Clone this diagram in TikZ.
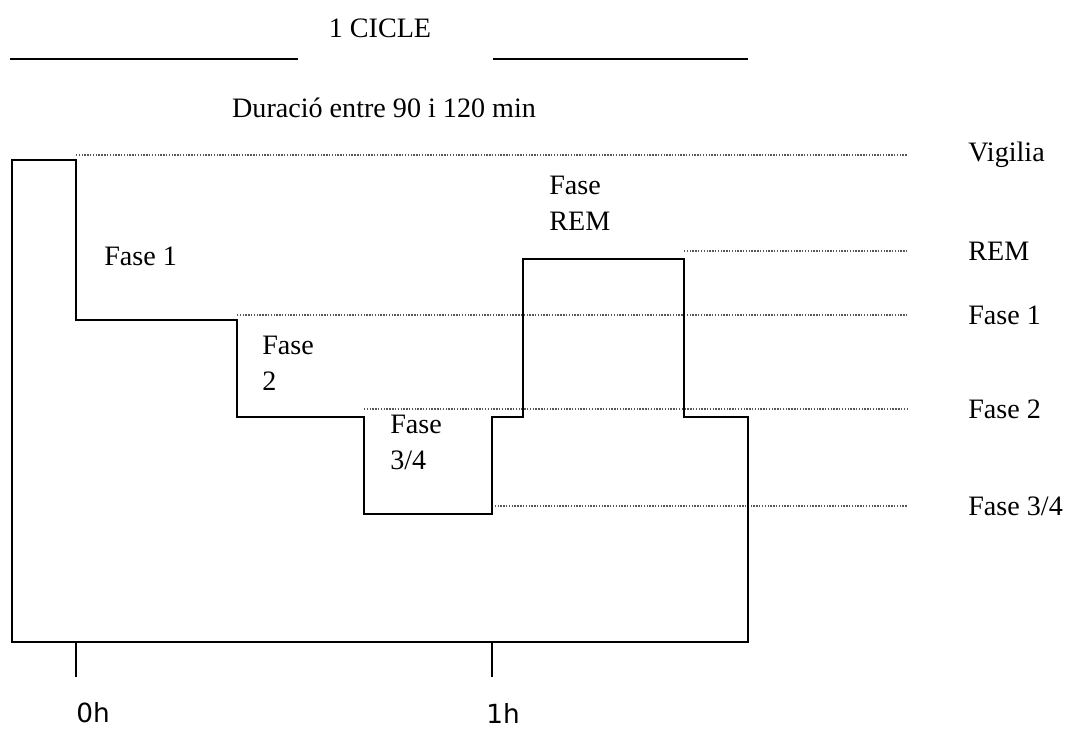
\documentclass[tikz,border=0pt]{standalone}
\usepackage{fontspec}
\setmainfont{Liberation Serif}
\newfontfamily\tickfont{DejaVu Sans}
\usetikzlibrary{positioning}

\begin{document}
\begin{tikzpicture}[x=0.02cm, y=-0.02cm, every node/.style={font=\fontsize{16}{20.5}\selectfont, inner sep=0pt}]
\tikzset{lvl/.style={line width=0.8pt, black!65, dash pattern=on 0.8pt off 0.8pt}}
\tikzset{hyp/.style={line width=1.1pt}}
\tikzset{lbl/.style={anchor=west, align=left}}
\tikzset{hour/.style={anchor=west, font=\tickfont\fontsize{15}{18}\selectfont}}
\useasboundingbox (0,0) rectangle (1067,728);
% title and rule
\node (cicle) at (380,28) {1 CICLE};
\coordinate (ra) at (10,59); \coordinate (rb) at (298,59);
\coordinate (rc) at (493,59); \coordinate (rd) at (748,59);
\draw[hyp] (ra) -- (rb);
\draw[hyp] (rc) -- (rd);
\node (durada) at (384,108) {Duració entre 90 i 120 min};
% level lines and names
\foreach \nm/\xx/\yy/\txt in {vig/76/155/Vigilia, rem/684/251/REM, f1/237/315/{Fase 1}, f2/364/409/{Fase 2}, f34/492/506/{Fase 3/4}}{
  \coordinate (s-\nm) at (\xx,\yy);
  \coordinate (e-\nm) at (908,\yy);
  \draw[lvl] (s-\nm) -- (e-\nm);
  \node[lbl] (lv-\nm) at (968,\yy) {\txt};
}
% hypnogram
\draw[hyp] (12,642) |- (76,160) |- (237,320) |- (364,417) |- (492,514)
  |- (523,417) |- (684,259) |- (748,417) -- (748,642) -- cycle;
\node[lbl] (p1) at (104,256) {Fase 1};
\node[lbl] (p2) at (262,363) {Fase\\2};
\node[lbl] (p34) at (390,442) {Fase\\3/4};
\node[lbl] (prem) at (549,203) {Fase\\REM};
% hours
\coordinate (t0) at (76,642); \coordinate (t0b) at (76,677);
\coordinate (t1) at (492,642); \coordinate (t1b) at (492,677);
\draw[hyp] (t0) -- (t0b);
\draw[hyp] (t1) -- (t1b);
\node[hour] (h0) at (76,713) {0h};
\node[hour] (h1) at (486,713) {1h};
\end{tikzpicture}
\end{document}
